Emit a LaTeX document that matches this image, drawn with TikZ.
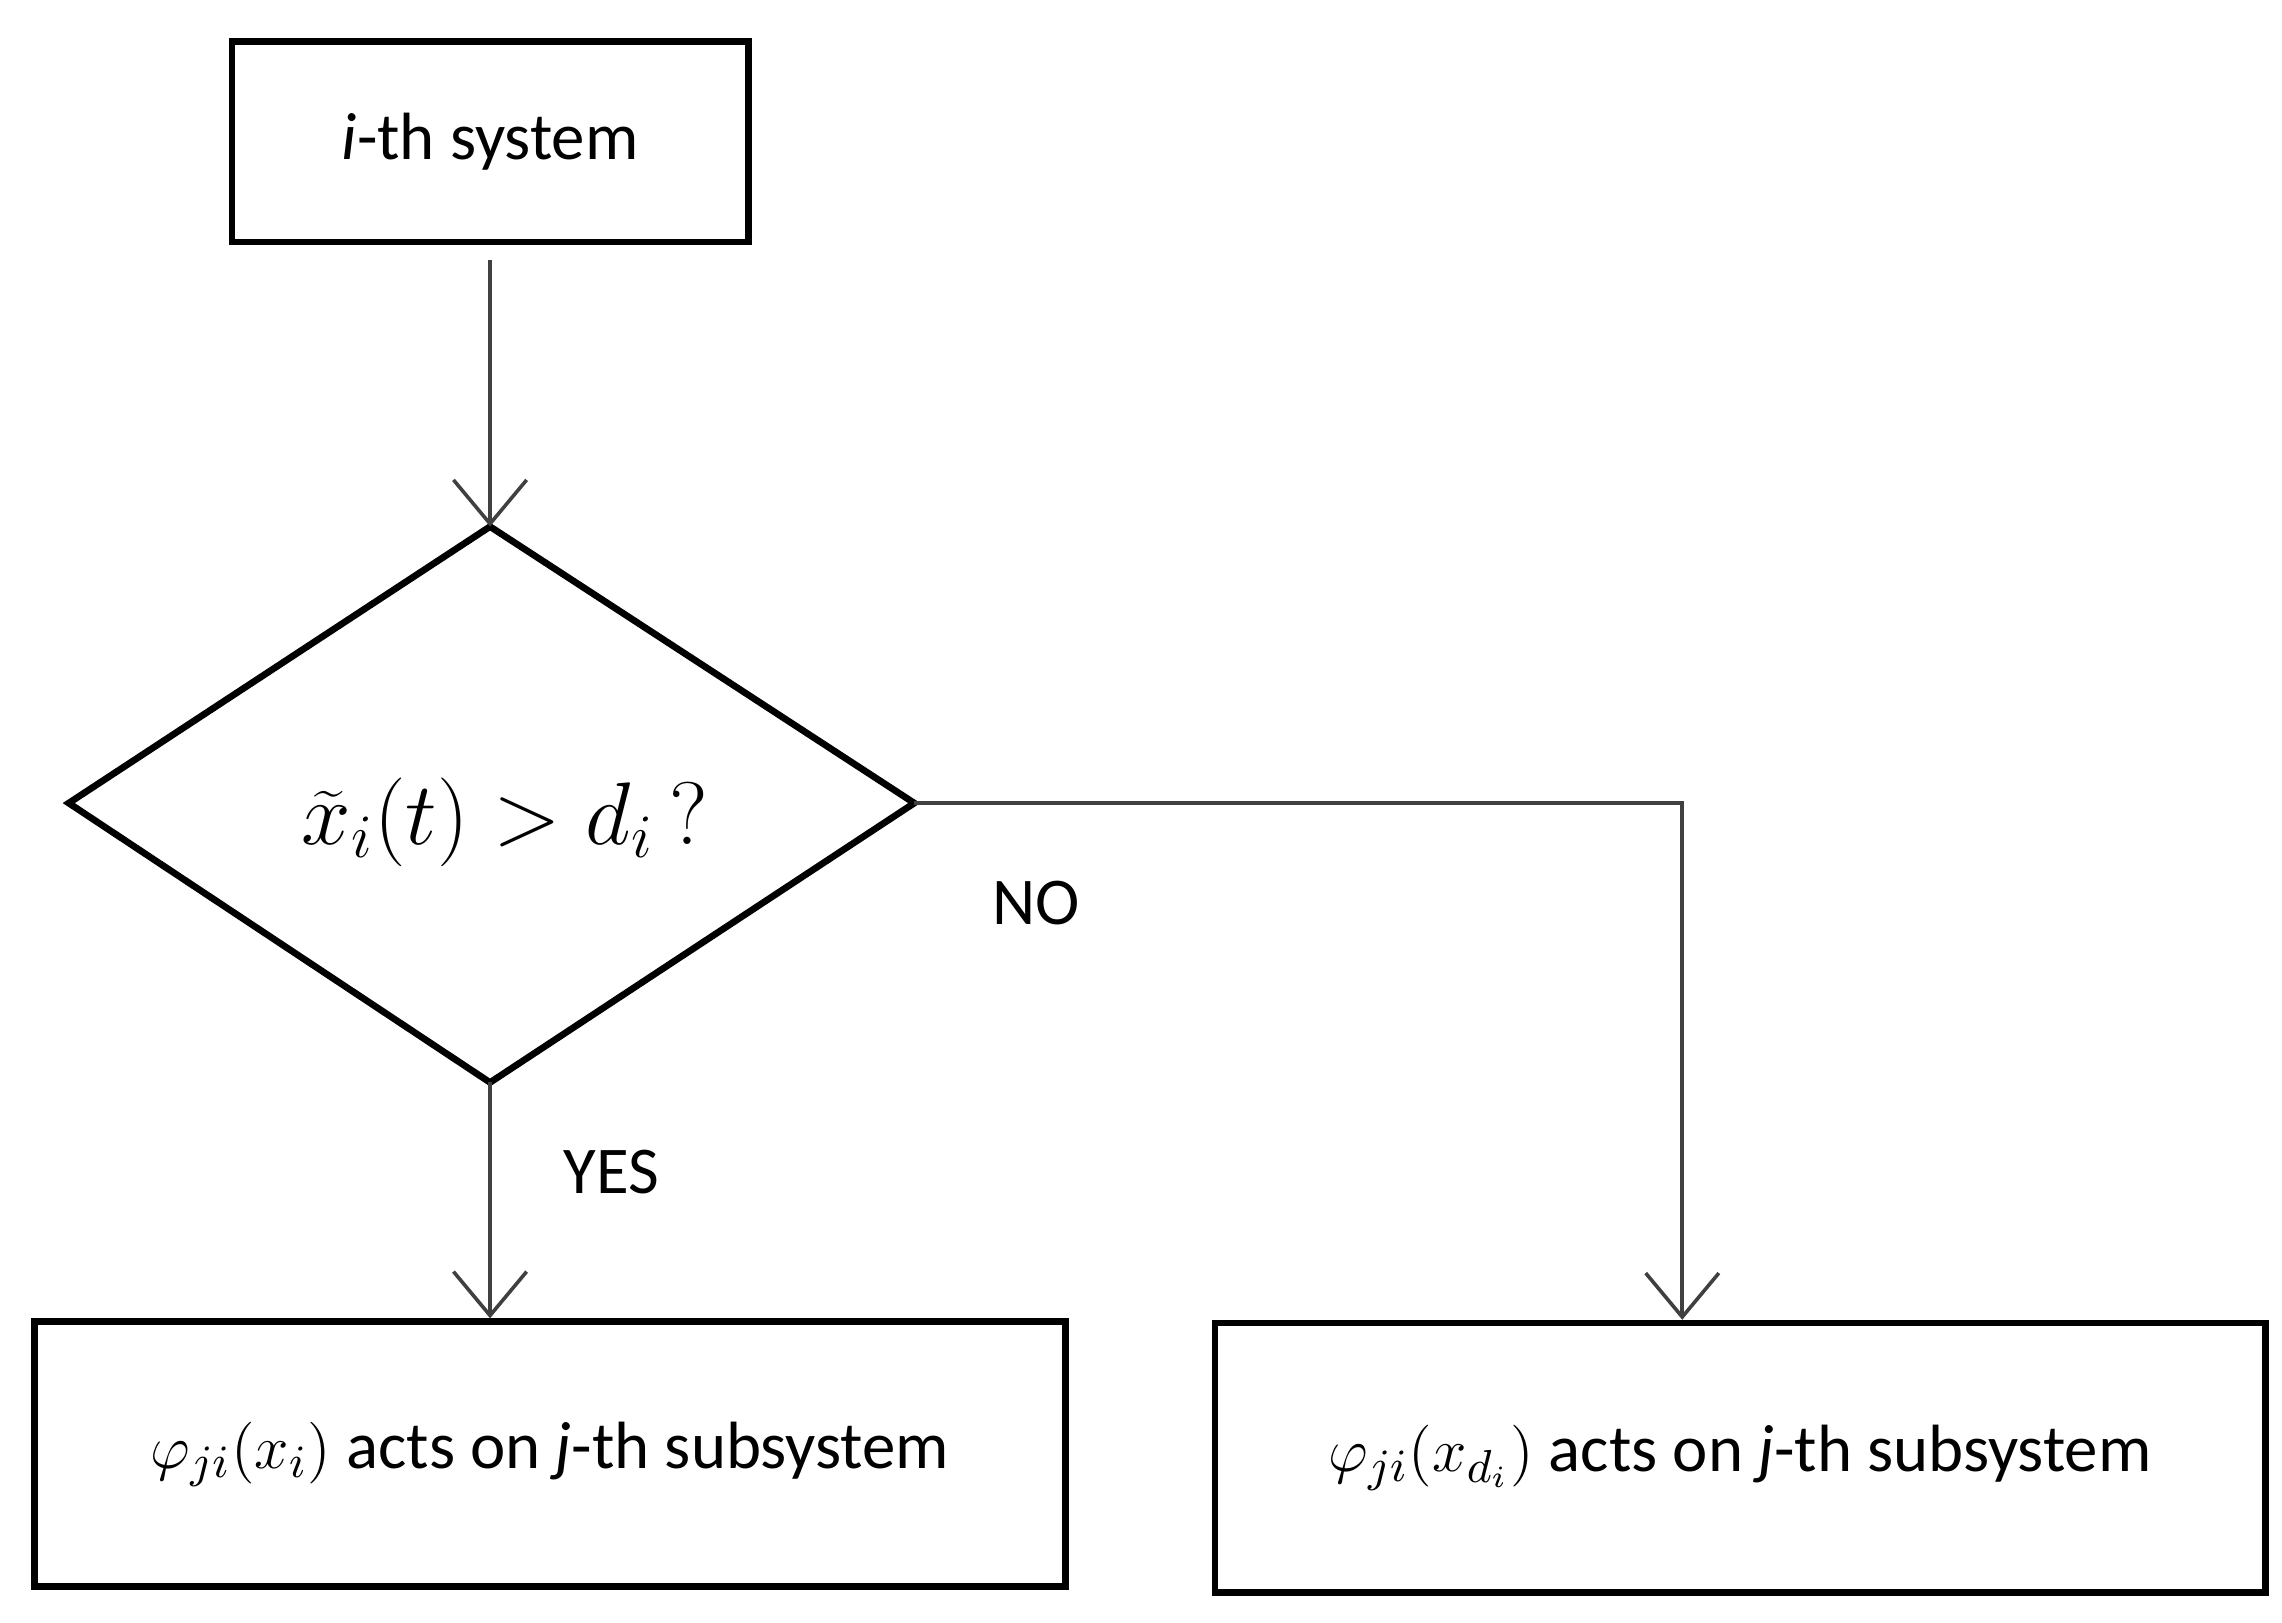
\documentclass[tikz,border=0pt]{standalone}
\usepackage{fontspec}
\setmainfont{Carlito}
\usetikzlibrary{shapes.geometric,arrows.meta}
\begin{document}
\begin{tikzpicture}[
  box/.style={draw, line width=1.3pt, inner sep=0pt, font=\fontsize{13}{16}\selectfont},
  arr/.style={draw=black!75, line width=0.7pt, -{Straight Barb[length=3mm,width=5mm]}},
  lbl/.style={font=\fontsize{13}{16}\selectfont}]
\useasboundingbox (0,0) rectangle (15.6,-11.095);
\node[box, minimum width=3.53cm, minimum height=1.37cm] (sys) at (3.35,-0.97) {\textit{i}-th system};
\draw[line width=1.3pt] (0.47,-5.49) -- (3.35,-3.60) -- (6.25,-5.49) -- (3.35,-7.40) -- cycle;
\coordinate (dtop) at (3.35,-3.60);
\coordinate (dright) at (6.25,-5.49);
\coordinate (dbot) at (3.35,-7.40);
\node[font=\fontsize{17}{20}\selectfont] (cond) at (3.45,-5.62) {$\widetilde{x}_i(t) > d_i\,?$};
\node[box, minimum width=7.05cm, minimum height=1.81cm] (yes) at (3.76,-9.94) {$\varphi_{ji}(x_i)$ acts on \textit{j}-th subsystem};
\node[box, minimum width=7.18cm, minimum height=1.84cm] (no) at (11.895,-9.965) {$\varphi_{ji}(x_{d_i})$ acts on \textit{j}-th subsystem};
\coordinate (sysb) at (3.35,-1.78);
\draw[arr] (sysb) -- (dtop);
\draw[arr] (dbot) -- (yes.north -| dbot);
\coordinate (corner) at (11.50,-5.49);
\draw[arr] (dright) -- (corner) -- (no.north -| corner);
\node[lbl] (nol) at (7.08,-6.17) {NO};
\node[lbl] (yesl) at (4.18,-8.01) {YES};
\end{tikzpicture}
\end{document}
